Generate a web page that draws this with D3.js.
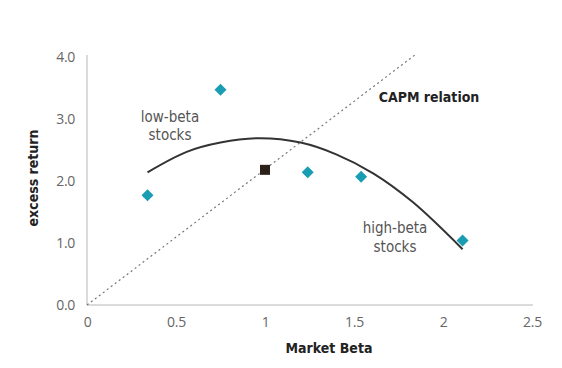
<!DOCTYPE html>
<html><head><meta charset="utf-8">
<script src="https://cdn.jsdelivr.net/npm/d3@7"></script>
<style>
body{margin:0;background:#fff;}
svg text{font-family:"Liberation Sans Narrow","DejaVu Sans Condensed","Open Sans",sans-serif;}
</style></head>
<body><svg id="c" width="562" height="368"></svg>
<script>
// Data
const stockBeta = [0.34, 0.75, 1.24, 1.54, 2.11];
const stockReturn = [1.77, 3.47, 2.14, 2.07, 1.04];
const marketBeta = [1.0];
const marketReturn = [2.18];
const curveBeta = [0.34, 0.56, 0.75, 0.97, 1.20, 1.40, 1.61, 1.83, 2.11];
const curveReturn = [2.14, 2.47, 2.62, 2.69, 2.62, 2.43, 2.12, 1.66, 0.90];
const capmBeta = [0, 1.85];
const capmReturn = [0, 4.05];
const xTicks = [0, 0.5, 1, 1.5, 2, 2.5];
const yTicks = [0, 1, 2, 3, 4];

const svg = d3.select("#c");
const x = d3.scaleLinear().domain([0, 2.5]).range([87, 532]);
const y = d3.scaleLinear().domain([0, 4]).range([305, 57]);

// axes
const xa = svg.append("g").attr("transform","translate(0,305)")
  .call(d3.axisBottom(x).tickValues(xTicks).tickSize(0).tickPadding(12).tickFormat(d=>String(d)));
const ya = svg.append("g").attr("transform","translate(87,0)")
  .call(d3.axisLeft(y).tickValues(yTicks).tickSize(0).tickPadding(12).tickFormat(d3.format(".1f")));
[xa,ya].forEach(g=>{
  g.select(".domain").attr("stroke","#cfcfcf").attr("stroke-width",1.5);
  g.selectAll("text").attr("fill","#666").attr("font-size",14)
   .style("font-family",'"Open Sans",sans-serif').style("letter-spacing","-0.3px");
});
ya.select(".domain").attr("d","M0,305V55");
xa.select(".domain").attr("d","M87,0H533");

// CAPM line
svg.append("line")
  .attr("x1",x(capmBeta[0])).attr("y1",y(capmReturn[0]))
  .attr("x2",x(capmBeta[1])).attr("y2",y(capmReturn[1]))
  .attr("stroke","#777").attr("stroke-width",1.2).attr("stroke-dasharray","2,3");

// curve
const pts = curveBeta.map((b,i)=>[b,curveReturn[i]]);
svg.append("path").datum(pts)
  .attr("d", d3.line().x(d=>x(d[0])).y(d=>y(d[1])).curve(d3.curveCatmullRom))
  .attr("fill","none").attr("stroke","#333").attr("stroke-width",2);

// diamonds
svg.selectAll(".dia").data(stockBeta.map((b,i)=>[b,stockReturn[i]])).enter()
  .append("path")
  .attr("d", d3.symbol().type(d3.symbolSquare).size(72))
  .attr("transform", d=>`translate(${x(d[0])},${y(d[1])}) rotate(45)`)
  .attr("fill","#1a9db3");

// market square
svg.selectAll(".mk").data(marketBeta.map((b,i)=>[b,marketReturn[i]])).enter()
  .append("rect")
  .attr("x",d=>x(d[0])-5).attr("y",d=>y(d[1])-5).attr("width",10).attr("height",10)
  .attr("fill","#2a2118");

// annotations
const ann = (t,px,py,opts={})=>svg.append("text").text(t).attr("x",px).attr("y",py)
  .attr("text-anchor",opts.anchor||"middle").attr("font-size",opts.size||15)
  .attr("font-weight",opts.bold?"bold":"normal").attr("fill",opts.color||"#555");
ann("low-beta",170,122);
ann("stocks",170,140);
ann("high-beta",395,233);
ann("stocks",395,252);
ann("CAPM relation",429,102,{bold:true,color:"#222",size:14});
ann("Market Beta",329,353,{bold:true,color:"#222",size:14});
svg.append("text").text("excess return").attr("transform","translate(38,178) rotate(-90)")
  .attr("text-anchor","middle").attr("font-size",14).attr("font-weight","bold").attr("fill","#222");
</script></body></html>
